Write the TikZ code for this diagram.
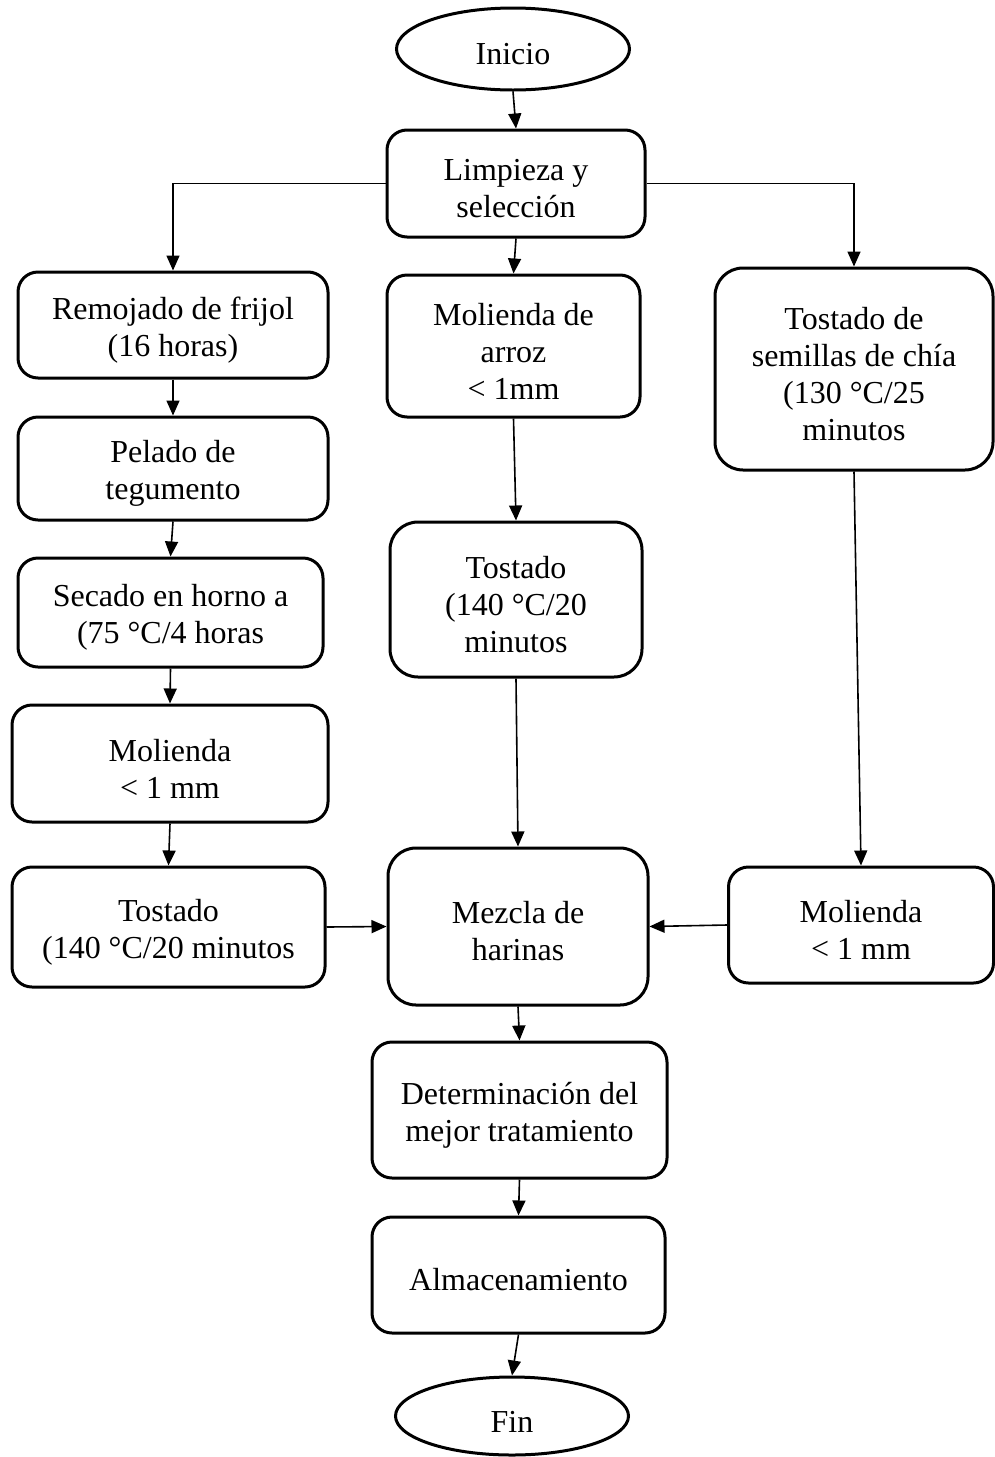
\documentclass[tikz,border=0pt]{standalone}
\usepackage{fontspec}
\setmainfont{Liberation Serif}
\usetikzlibrary{arrows.meta,shapes.geometric}
\newcommand\tst{\rule{0pt}{32pt}}
\begin{document}
\begin{tikzpicture}[x=1pt,y=-1pt,
  box/.style={draw, line width=3pt, rounded corners=20pt, align=center, inner sep=0pt,
    font=\fontsize{32}{37}\selectfont},
  bigbox/.style={box, rounded corners=28pt},
  oval/.style={draw, ellipse, line width=3pt, inner sep=0pt, font=\fontsize{32}{37}\selectfont},
  conn/.style={line width=1.6pt, -{Triangle[width=13pt,length=15pt]}}]
\useasboundingbox (0,0) rectangle (994,1457);
\node[oval, minimum width=233, minimum height=82] (inicio) at (513,49) {\tst Inicio};
\node[box, minimum width=258, minimum height=107] (limp) at (516,183.5) {\tst Limpieza y\\selección};
\node[box, minimum width=310, minimum height=106] (remo) at (173,325) {\tst Remojado de frijol\\(16 horas)};
\node[box, minimum width=310, minimum height=103] (pela) at (173,468.5) {\tst Pelado de\\tegumento};
\node[box, minimum width=305, minimum height=109] (seca) at (170.5,612.5) {\tst Secado en horno a\\(75 °C/4 horas};
\node[box, minimum width=316, minimum height=117] (moll) at (170,763.5) {\tst Molienda\\< 1 mm};
\node[box, minimum width=313, minimum height=120] (tosl) at (168.5,927) {\tst Tostado\\(140 °C/20 minutos};
\node[box, minimum width=253, minimum height=142] (mola) at (513.5,346) {\tst Molienda de\\arroz\\< 1mm};
\node[bigbox, minimum width=252, minimum height=155] (tosc) at (516,599.5) {\tst Tostado\\(140 °C/20\\minutos};
\node[bigbox, minimum width=278, minimum height=202] (tsem) at (854,369) {\tst Tostado de\\semillas de chía\\(130 °C/25\\minutos};
\node[bigbox, minimum width=260, minimum height=157] (mezc) at (518,926.5) {\tst Mezcla de\\harinas};
\node[box, minimum width=265, minimum height=116] (molr) at (861,925) {\tst Molienda\\< 1 mm};
\node[box, minimum width=295, minimum height=136] (dete) at (519.5,1110) {\tst Determinación del\\mejor tratamiento};
\node[box, minimum width=293, minimum height=116] (alma) at (518.5,1275) {\tst Almacenamiento};
\node[oval, minimum width=233, minimum height=78] (fin) at (512,1416) {\tst Fin};

\draw[conn] (inicio.south) -- (limp.north);
\draw[conn] (limp.west) -| (remo.north);
\draw[conn] (limp.east) -| (tsem.north);
\draw[conn] (limp.south) -- (mola.north);
\draw[conn] (remo.south) -- (pela.north);
\draw[conn] (pela.south) -- (seca.north);
\draw[conn] (seca.south) -- (moll.north);
\draw[conn] (moll.south) -- (tosl.north);
\draw[conn] (mola.south) -- (tosc.north);
\draw[conn] (tosc.south) -- (mezc.north);
\draw[conn] (tsem.south) -- (molr.north);
\draw[conn] (tosl.east) -- (mezc.west);
\draw[conn] (molr.west) -- (mezc.east);
\draw[conn] (mezc.south) -- (dete.north);
\draw[conn] (dete.south) -- (alma.north);
\draw[conn] (alma.south) -- (fin.north);
\end{tikzpicture}
\end{document}
